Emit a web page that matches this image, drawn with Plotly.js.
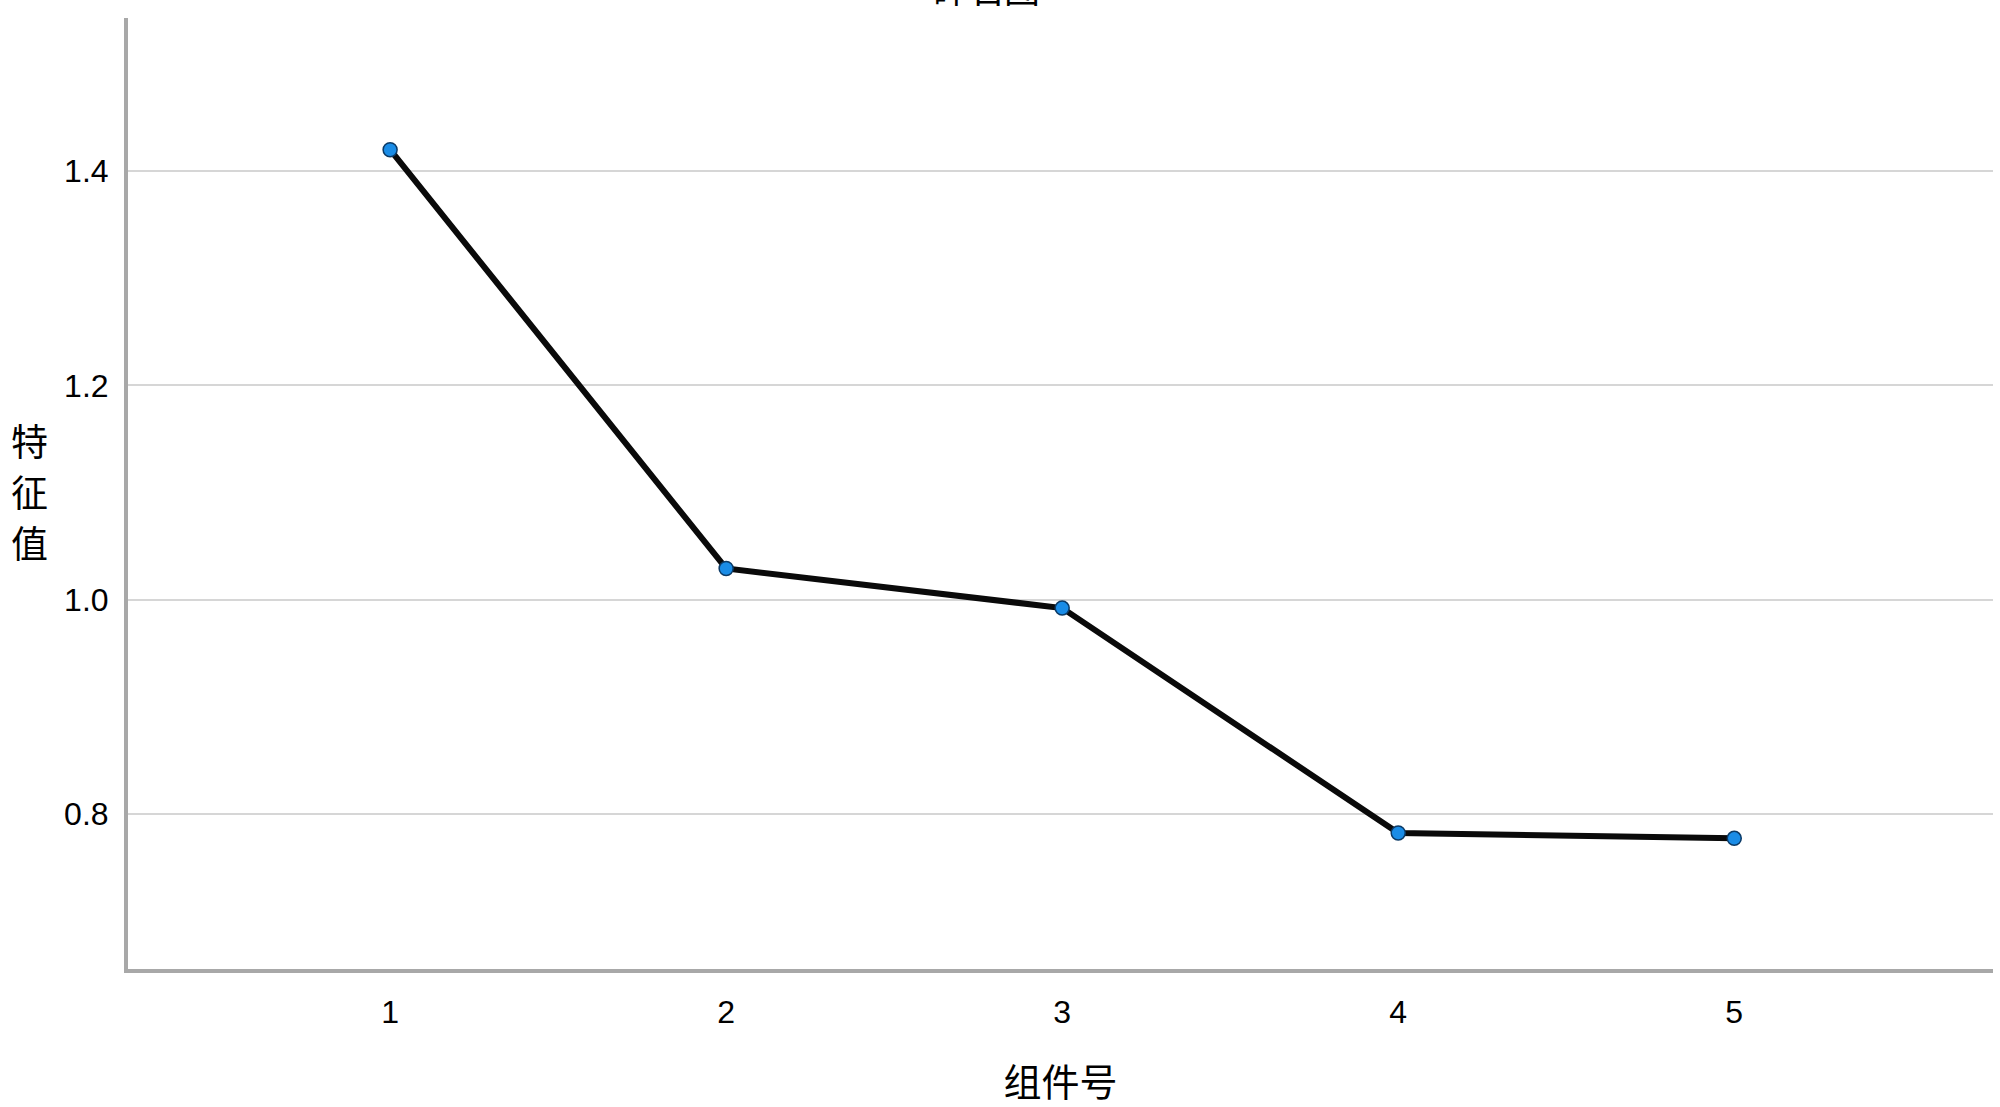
<!DOCTYPE html>
<html>
<head>
<meta charset="utf-8">
<script src="https://cdn.plot.ly/plotly-3.0.1.min.js"></script>
<style>
html,body{margin:0;padding:0;background:#fff;}
#chart{width:2000px;height:1107px;}
</style>
</head>
<body>
<div id="chart"></div>
<script>
const components = [1, 2, 3, 4, 5];
const eigenvalues = [1.420, 1.029, 0.992, 0.782, 0.777];
const yTickVals = [0.8, 1.0, 1.2, 1.4];
const yTickText = ["0.8", "1.0", "1.2", "1.4"];
const xTickText = ["1", "2", "3", "4", "5"];
const yTitleChars = ["特", "征", "值"];

const trace = {
  x: components,
  y: eigenvalues,
  type: 'scatter',
  mode: 'lines+markers',
  line: {color: '#0a0a0a', width: 6},
  marker: {color: '#1a8ce6', size: 14, line: {color: '#0b3a66', width: 1.5}},
  hoverinfo: 'x+y'
};

const cjk = 'Noto Sans CJK SC, sans-serif';
const yTitleAnnotations = yTitleChars.map((ch, i) => ({
  text: ch,
  xref: 'paper', yref: 'paper',
  x: -0.053, y: 0.503,
  yshift: (1 - i) * 51,
  xanchor: 'center', yanchor: 'middle',
  showarrow: false,
  font: {size: 37, family: cjk, color: '#000'}
}));

const layout = {
  width: 2000,
  height: 1107,
  margin: {l: 128, r: 7, t: 18, b: 138},
  paper_bgcolor: '#ffffff',
  plot_bgcolor: '#ffffff',
  showlegend: false,
  font: {family: 'Liberation Sans, Arial, sans-serif', color: '#000'},
  xaxis: {
    range: [0.22, 5.77],
    tickvals: components,
    ticktext: xTickText,
    showgrid: false,
    zeroline: false,
    showline: true,
    linecolor: '#a8a8a8',
    linewidth: 4,
    ticks: '',
    ticklabelstandoff: 12,
    tickfont: {size: 32, color: '#000'},
    title: {text: '组件号', font: {size: 38, family: cjk, color: '#000'}, standoff: 42}
  },
  yaxis: {
    range: [0.655, 1.543],
    tickvals: yTickVals,
    ticktext: yTickText,
    showgrid: true,
    gridcolor: '#d6d6d6',
    gridwidth: 2,
    zeroline: false,
    showline: true,
    linecolor: '#a8a8a8',
    linewidth: 4,
    ticks: '',
    ticklabelstandoff: 9,
    tickfont: {size: 32, color: '#000'}
  },
  annotations: yTitleAnnotations.concat([
    {
      text: '碎石图',
      xref: 'paper', yref: 'paper',
      x: 0.46, y: 1.0,
      xanchor: 'center', yanchor: 'bottom',
      yshift: 3,
      showarrow: false,
      font: {size: 36, family: cjk, color: '#000'}
    }
  ])
};

Plotly.newPlot('chart', [trace], layout, {displayModeBar: false, responsive: false});
</script>
</body>
</html>
